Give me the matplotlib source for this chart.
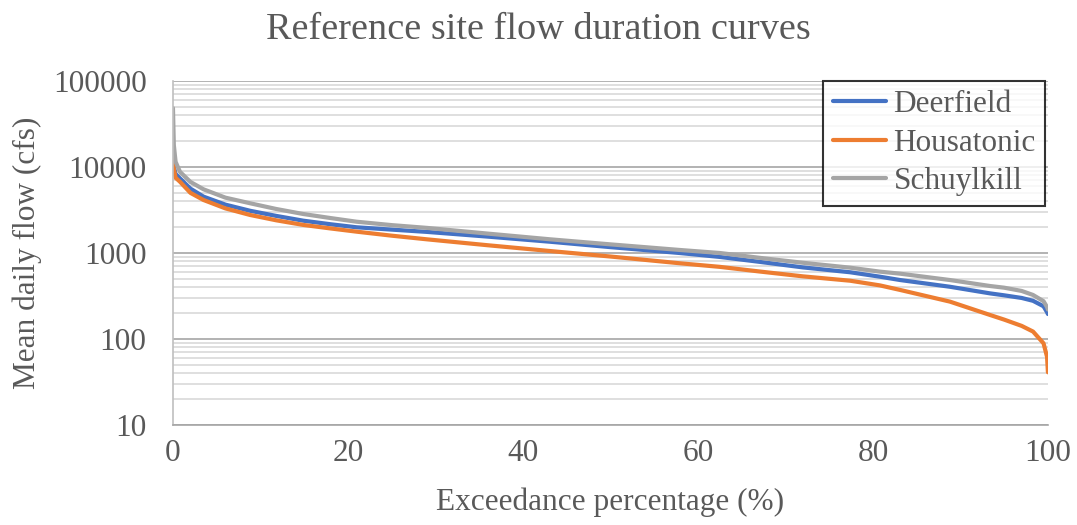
import matplotlib.pyplot as plt
from matplotlib.ticker import LogLocator, FixedLocator, NullFormatter

plt.rcParams['font.family'] = ['Liberation Serif', 'DejaVu Serif']

# exceedance percentage (%) and mean daily flow (cfs) for each reference site
exceedance = [0, 0.1, 0.3, 0.8, 2, 3.5, 6, 8.8, 11.8, 14.9, 18, 21, 25, 29, 36, 43.1, 50, 57.9,
              62.5, 67, 72, 77.4, 80.8, 83.1, 88.8, 93.4, 95, 97, 98.3, 99.5, 99.9, 100]
deerfield = [13000, 10000, 8300, 7380, 5600, 4520, 3650, 3100, 2700, 2375, 2160, 1990, 1870, 1760,
             1550, 1352, 1170, 1000, 900, 790, 680, 597, 530, 485, 405, 339, 322, 300, 278, 240, 205, 195]
housatonic = [14500, 9500, 7500, 6740, 5000, 4130, 3300, 2770, 2400, 2120, 1930, 1770, 1590, 1443,
              1230, 1054, 910, 760, 690, 610, 535, 476, 420, 372, 272, 190, 168, 142, 122, 89, 62, 41]
schuylkill = [48500, 18000, 11500, 8800, 6700, 5500, 4400, 3790, 3250, 2840, 2550, 2310, 2110, 1960,
              1680, 1443, 1260, 1085, 1000, 880, 770, 675, 607, 575, 485, 413, 395, 362, 325, 275, 235, 220]

series = [('Deerfield', deerfield, '#4472C4'),
          ('Housatonic', housatonic, '#ED7D31'),
          ('Schuylkill', schuylkill, '#A5A5A5')]

text_color = '#595959'

fig = plt.figure(figsize=(10.77, 5.25), dpi=100)
ax = fig.add_axes([0.1606, 0.1905, 0.8124, 0.6552])

for name, flow, color in series:
    ax.plot(exceedance, flow, color=color, lw=3.0, label=name, solid_capstyle='round')

ax.set_yscale('log')
ax.set_ylim(10, 100000)
ax.set_xlim(0, 100)
ax.xaxis.set_major_locator(FixedLocator([0, 20, 40, 60, 80, 100]))
ax.yaxis.set_major_locator(LogLocator(base=10))
ax.yaxis.set_minor_locator(LogLocator(base=10, subs=range(2, 10)))
ax.yaxis.set_minor_formatter(NullFormatter())
ax.set_yticks([10, 100, 1000, 10000, 100000])
ax.set_yticklabels(['10', '100', '1000', '10000', '100000'])

ax.grid(which='major', axis='y', color='#A6A6A6', lw=1.2)
ax.grid(which='minor', axis='y', color='#D9D9D9', lw=1.2)
ax.set_axisbelow(True)

for side in ['top', 'right']:
    ax.spines[side].set_visible(False)
ax.spines['left'].set_color('#BFBFBF')
ax.spines['bottom'].set_color('#A6A6A6')
ax.spines['left'].set_linewidth(1.2)
ax.spines['bottom'].set_linewidth(1.2)

ax.tick_params(which='both', length=0, labelsize=22.5, colors=text_color)
ax.tick_params(axis='x', pad=10)
ax.tick_params(axis='y', pad=19)

ax.set_xlabel('Exceedance percentage (%)', fontsize=22.5, color=text_color, labelpad=14)
ax.set_ylabel('Mean daily flow (cfs)', fontsize=22.5, color=text_color, labelpad=8)
# title is centred on the whole figure, not on the axes
fig.text(0.5, 0.943, 'Reference site flow duration curves', fontsize=27.5,
         color=text_color, ha='center', va='center')

leg = ax.legend(loc='upper right', fontsize=22.5, frameon=True, fancybox=False,
                borderpad=0.3, labelspacing=0.3, handlelength=1.7, handletextpad=0.25,
                borderaxespad=0.0, bbox_to_anchor=(0.997, 1.0))
leg.get_frame().set_edgecolor('black')
leg.get_frame().set_linewidth(1.5)
for t in leg.get_texts():
    t.set_color(text_color)

fig.savefig('out.png', dpi=100)
